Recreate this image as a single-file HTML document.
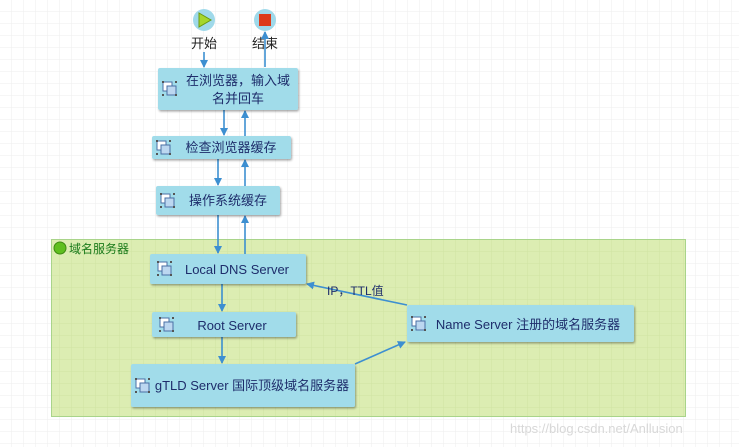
<!DOCTYPE html>
<html><head><meta charset="utf-8"><style>
html,body{margin:0;padding:0;background:#fff}
svg{display:block}
text{font-family:"Liberation Sans","Noto Sans CJK SC",sans-serif}
</style></head><body>
<svg width="739" height="447" viewBox="0 0 739 447" xmlns="http://www.w3.org/2000/svg">
<defs>
<pattern id="g" width="12" height="12" patternUnits="userSpaceOnUse">
<path d="M12 0V12H0" fill="none" stroke="#eeeeee" stroke-width="1"/>
</pattern>
<pattern id="g2" width="12" height="12" patternUnits="userSpaceOnUse">
<rect width="12" height="12" fill="#dcedb2"/>
<path d="M12 0V12H0" fill="none" stroke="#cfe3a3" stroke-width="1"/>
</pattern>
<marker id="a" markerWidth="8" markerHeight="8" refX="7" refY="4" orient="auto" markerUnits="userSpaceOnUse">
<path d="M0,0L8,4L0,8z" fill="#3d8fd1"/>
</marker>
<filter id="s" x="-10%" y="-10%" width="120%" height="130%"><feDropShadow dx="1" dy="1.5" stdDeviation="1" flood-color="#000" flood-opacity="0.35"/></filter>
<g id="ic"><rect x="0" y="0" width="9" height="9" fill="#fff" stroke="#4a6fa5" stroke-width="1"/><rect x="4" y="4" width="9" height="9" fill="#bcd7f0" stroke="#4a6fa5" stroke-width="1"/><rect x="-1" y="-1" width="2" height="2" fill="#555"/><rect x="12" y="-1" width="2" height="2" fill="#555"/><rect x="-1" y="12" width="2" height="2" fill="#555"/><rect x="12" y="12" width="2" height="2" fill="#555"/></g>
</defs>
<rect width="739" height="447" fill="url(#g)"/>
<rect x="51.5" y="239.5" width="634" height="177" fill="url(#g2)" stroke="#a9d48a"/>
<circle cx="60" cy="248" r="6" fill="#5fbf1f" stroke="#3d8a12"/>
<text x="69" y="253" font-size="12" fill="#1a7a1a">域名服务器</text>

<circle cx="204" cy="20" r="11" fill="#9fd9ea"/>
<path d="M199,13L211,20L199,27z" fill="#a6d62c" stroke="#6a9a10"/>
<circle cx="265" cy="20" r="11" fill="#9fd9ea"/>
<rect x="259" y="14" width="12" height="12" fill="#dd3b1a"/>
<text x="204" y="48" font-size="13" text-anchor="middle" fill="#222">开始</text>
<text x="265" y="48" font-size="13" text-anchor="middle" fill="#222">结束</text>

<g stroke="#3d8fd1" stroke-width="1.6" fill="none">
<line x1="204" y1="52" x2="204" y2="67" marker-end="url(#a)"/>
<line x1="265" y1="67" x2="265" y2="32" marker-end="url(#a)"/>
<line x1="224" y1="110" x2="224" y2="135" marker-end="url(#a)"/>
<line x1="245" y1="136" x2="245" y2="111" marker-end="url(#a)"/>
<line x1="218" y1="159" x2="218" y2="185" marker-end="url(#a)"/>
<line x1="245" y1="186" x2="245" y2="160" marker-end="url(#a)"/>
<line x1="218" y1="215" x2="218" y2="253" marker-end="url(#a)"/>
<line x1="245" y1="254" x2="245" y2="216" marker-end="url(#a)"/>
<line x1="222" y1="284" x2="222" y2="311" marker-end="url(#a)"/>
<line x1="222" y1="337" x2="222" y2="363" marker-end="url(#a)"/>
<line x1="355" y1="364" x2="405" y2="342" marker-end="url(#a)"/>
<line x1="407" y1="305" x2="307" y2="284" marker-end="url(#a)"/>
</g>
<text x="327" y="295" font-size="12" fill="#1e2d6b">IP，TTL值</text>

<g fill="#a1dcea" filter="url(#s)">
<rect x="158" y="68" width="140" height="42" rx="2"/>
<rect x="152" y="136" width="139" height="23" rx="2"/>
<rect x="156" y="186" width="124" height="29" rx="2"/>
<rect x="150" y="254" width="156" height="30" rx="2"/>
<rect x="152" y="312" width="144" height="25" rx="2"/>
<rect x="131" y="364" width="224" height="43" rx="2"/>
<rect x="407" y="305" width="227" height="37" rx="2"/>
</g>
<g font-size="13" fill="#1e2d6b" text-anchor="middle">
<text x="238" y="85">在浏览器，输入域</text>
<text x="238" y="103">名并回车</text>
<text x="231" y="152">检查浏览器缓存</text>
<text x="228" y="205">操作系统缓存</text>
<text x="237" y="274">Local DNS Server</text>
<text x="232" y="330">Root Server</text>
<text x="252" y="390">gTLD Server 国际顶级域名服务器</text>
<text x="528" y="329">Name Server 注册的域名服务器</text>
</g>
<use href="#ic" x="163" y="82"/>
<use href="#ic" x="157" y="141"/>
<use href="#ic" x="161" y="194"/>
<use href="#ic" x="158" y="262"/>
<use href="#ic" x="160" y="318"/>
<use href="#ic" x="136" y="379"/>
<use href="#ic" x="412" y="317"/>
<text x="510" y="433" font-size="13" fill="#d8d8d8">https://blog.csdn.net/Anllusion</text>
</svg>
</body></html>
